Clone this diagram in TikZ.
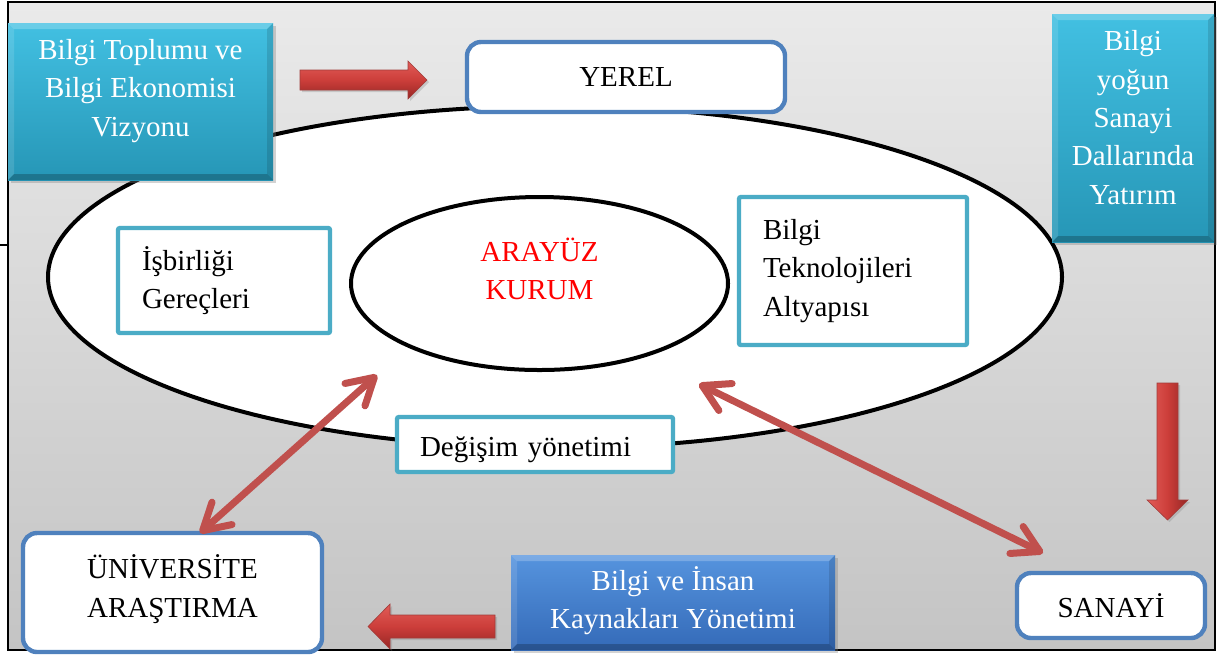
\documentclass[tikz,border=0pt]{standalone}
\usepackage{fontspec}
\setmainfont{Liberation Serif}
\usetikzlibrary{shapes.geometric,arrows.meta,shadows}

\definecolor{bgTop}{RGB}{234,234,234}
\definecolor{bgBot}{RGB}{196,196,196}
\definecolor{cyanTop}{RGB}{66,192,226}
\definecolor{cyanBot}{RGB}{38,150,182}
\definecolor{blueTop}{RGB}{86,148,222}
\definecolor{blueBot}{RGB}{52,106,184}
\definecolor{tealLine}{RGB}{75,172,198}
\definecolor{blueLine}{RGB}{79,129,189}
\definecolor{linkRed}{RGB}{192,80,77}
\definecolor{redLight}{RGB}{226,92,88}
\definecolor{redMid}{RGB}{204,62,58}
\definecolor{redDark}{RGB}{150,38,36}
\definecolor{kurumRed}{RGB}{255,0,0}

% light/dark bevel faces on a rectangular node
\newcommand\bevelfaces[2]{%
  \fill[white, opacity=0.22] (#1.north west) -- (#1.north east) -- ([shift={(-#2,-#2)}]#1.north east) -- ([shift={(#2,-#2)}]#1.north west) -- cycle;
  \fill[white, opacity=0.12] (#1.north west) -- ([shift={(#2,-#2)}]#1.north west) -- ([shift={(#2,#2)}]#1.south west) -- (#1.south west) -- cycle;
  \fill[black, opacity=0.22] (#1.south west) -- ([shift={(#2,#2)}]#1.south west) -- ([shift={(-#2,#2)}]#1.south east) -- (#1.south east) -- cycle;
  \fill[black, opacity=0.12] (#1.north east) -- (#1.south east) -- ([shift={(-#2,#2)}]#1.south east) -- ([shift={(-#2,-#2)}]#1.north east) -- cycle;
}

\tikzset{
  txt/.style={font=\fontsize{14.5}{19.2}\selectfont},
  framebg/.style={draw=black, line width=0.8pt, top color=bgTop, bottom color=bgBot},
  outerring/.style={ellipse, draw=black, line width=2pt, fill=white, inner sep=0pt,
    minimum width=507pt, minimum height=171pt},
  innerring/.style={ellipse, draw=black, line width=2pt, fill=white, inner sep=0pt,
    minimum width=188.5pt, minimum height=86.5pt, txt, text=kurumRed, align=center},
  tealbox/.style={rectangle, rounded corners=1pt, draw=tealLine, line width=2.2pt, fill=white,
    txt, align=left, inner xsep=12pt, inner ysep=2pt, outer sep=0pt},
  bluebox/.style={rectangle, rounded corners=7pt, draw=blueLine, line width=2.2pt, fill=white,
    txt, align=center, inner sep=2pt, outer sep=0pt},
  cyanbox/.style={rectangle, top color=cyanTop, bottom color=cyanBot, text=white, txt,
    align=center, inner sep=2pt, outer sep=0pt,
    drop shadow={opacity=0.35, shadow xshift=1.5pt, shadow yshift=-1.5pt}},
  navybox/.style={cyanbox, top color=blueTop, bottom color=blueBot},
  blockarrowH/.style={top color=redLight, bottom color=redDark, middle color=redMid,
    draw=redDark!90, line width=0.3pt,
    drop shadow={opacity=0.3, shadow xshift=1pt, shadow yshift=-1pt}},
  blockarrowV/.style={left color=redLight, right color=redDark, middle color=redMid,
    draw=redDark!90, line width=0.3pt,
    drop shadow={opacity=0.3, shadow xshift=1pt, shadow yshift=-1pt}},
  linkarrow/.style={draw=linkRed, line width=3.5pt,
    {Straight Barb[length=13pt,width=15pt,round]}-{Straight Barb[length=13pt,width=15pt,round]}}
}

\begin{document}
\begin{tikzpicture}[x=0.5pt,y=-0.5pt]
\useasboundingbox (0,0) rectangle (1219,655);

% page frame with grey gradient
\path[framebg] (8,2) rectangle (1215,650);
\draw[line width=0.6pt] (0,245) -- (8,245);

% central rings
\node[outerring] (ring) at (555,277) {};
\node[innerring, text depth=14.5pt] (kurum) at (539.5,283.5) {ARAYÜZ\\KURUM};

% boxes inside the outer ring
\node[tealbox, minimum width=106pt, minimum height=52.5pt, text width=82pt] (isbirligi) at (224,280.5) {İşbirliği\\Gereçleri};
\node[tealbox, minimum width=114pt, minimum height=74pt, text width=90pt] (altyapi) at (853,271) {Bilgi\\Teknolojileri\\Altyapısı};
\node[tealbox, minimum width=138pt, minimum height=27.5pt, text width=115pt, inner xsep=11.5pt, text height=15.5pt] (degisim) at (535,444.5) {Değişim yönetimi};

% rounded white boxes
\node[bluebox, minimum width=159pt, minimum height=35pt] (yerel) at (626,77) {YEREL};
\node[bluebox, minimum width=149.5pt, minimum height=59.5pt, text depth=6.5pt] (univ) at (172.5,592.5) {ÜNİVERSİTE\\ARAŞTIRMA};
\node[bluebox, minimum width=94pt, minimum height=32.5pt] (sanayi) at (1111,605.5) {SANAYİ};

% coloured bevelled boxes
\node[cyanbox, minimum width=132.5pt, minimum height=78.5pt, text depth=13.9pt] (vizyon) at (140.5,101.5) {Bilgi Toplumu ve\\Bilgi Ekonomisi\\Vizyonu};
\bevelfaces{vizyon}{3pt}
\node[cyanbox, minimum width=81pt, minimum height=114pt, text depth=10.5pt] (yatirim) at (1133,128) {Bilgi\\yoğun\\Sanayi\\Dallarında\\Yatırım};
\bevelfaces{yatirim}{3pt}
\node[navybox, minimum width=162pt, minimum height=47.5pt, text depth=5pt] (insan) at (673,602.5) {Bilgi ve İnsan\\Kaynakları Yönetimi};
\bevelfaces{insan}{3pt}

% solid block arrows
\path[blockarrowH] (300,70) -- (408,70) -- (408,61) -- (427,80) -- (408,99) -- (408,90) -- (300,90) -- cycle;
\path[blockarrowV] (1157,383) -- (1178,383) -- (1178,500) -- (1188,500) -- (1167.5,520) -- (1147,500) -- (1157,500) -- cycle;
\path[blockarrowH] (495,615) -- (390,615) -- (390,604) -- (368,626.5) -- (390,649) -- (390,638) -- (495,638) -- cycle;

% two-way links
\coordinate (kurumLow) at (377,375);
\coordinate (univTop) at (200,533);
\coordinate (kurumRight) at (699,384);
\coordinate (sanayiTop) at (1043,553);
\draw[linkarrow] (univTop) -- (kurumLow);
\draw[linkarrow] (kurumRight) -- (sanayiTop);
\end{tikzpicture}
\end{document}
